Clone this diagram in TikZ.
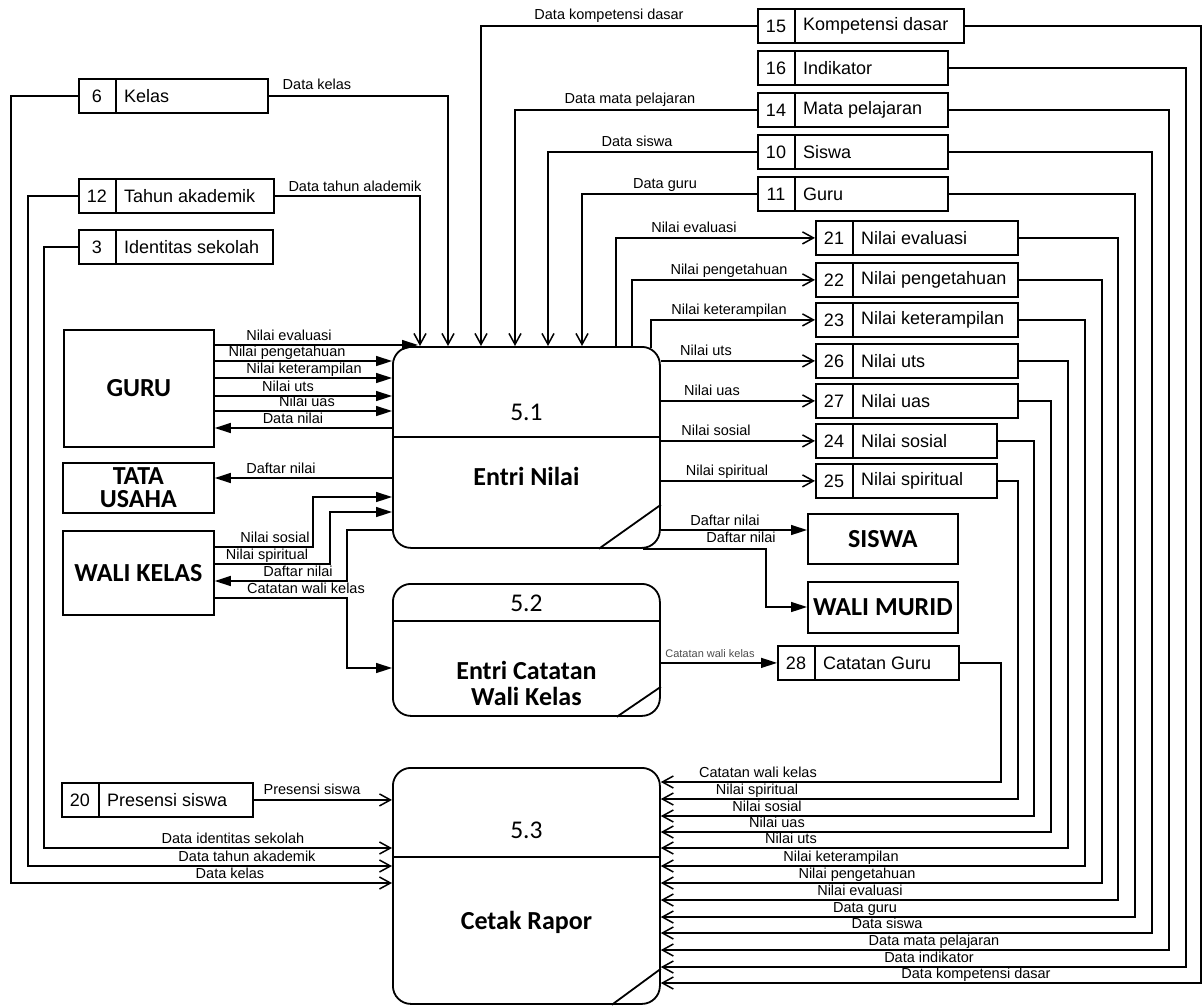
\documentclass[tikz,border=0pt]{standalone}
\usepackage{fontspec}
\setmainfont{Liberation Sans}
\newfontfamily\carlito{Carlito}
\usetikzlibrary{arrows.meta}

% data store: name, left x, top y, right x, number, title
\newcommand\dstore[6]{%
  \node[storebox, minimum width={(#4-#2)*1pt}] (#1) at (#2,#3) {};
  \draw[boxline] ([xshift=38pt]#1.north west) -- ([xshift=38pt]#1.south west);
  \node[storetxt] (#1n) at ([xshift=19pt]#1.west) {#5};
  \node[storetxt, anchor=west] (#1t) at ([xshift=46pt]#1.west) {#6};
}
% flow label: name, centre x, y of its line, text
\newcommand\lab[4]{\node[lbl] (#1) at (#2,#3) {#4};}

\begin{document}
\begin{tikzpicture}[x=1pt,y=-1pt,
  boxline/.style={line width=1.8pt},
  procbox/.style={draw, boxline, rounded corners=18pt, minimum width=267pt,
    inner sep=0pt, anchor=north west},
  procnum/.style={font=\carlito\fontsize{25.5}{27}\selectfont},
  procname/.style={font=\carlito\bfseries\fontsize{26}{29}\selectfont, align=center},
  entity/.style={draw, boxline, inner sep=0pt, anchor=north west,
    font=\carlito\bfseries\fontsize{26}{23.5}\selectfont, align=center},
  storebox/.style={draw, boxline, inner sep=0pt, minimum height=34pt, anchor=north west},
  storetxt/.style={font=\fontsize{18}{20}\selectfont, inner sep=0pt},
  flow/.style={line width=1.5pt},
  fa/.style={flow, -{Triangle[length=16pt,width=10pt]}},
  oa/.style={flow, -{Straight Barb[length=11pt,width=12pt,line width=1.5pt]}},
  lbl/.style={font=\fontsize{14.5}{16}\selectfont, inner sep=0pt, anchor=base, yshift=4.5pt},
  smalllbl/.style={lbl, font=\fontsize{11}{12}\selectfont, text=black!70},
]
\useasboundingbox (0,0) rectangle (1203,1005);

% ---------------- processes ----------------
\node[procbox, minimum height=201pt] (p51) at (392,346) {};
\draw[boxline] (p51.west |- 0,437) -- (p51.east |- 0,437);
\draw[boxline] ([xshift=-62pt]p51.south east) -- ([yshift=44pt]p51.south east);
\node[procnum] (p51n) at (p51.north |- 0,412) {5.1};
\node[procname] (p51t) at (p51.north |- 0,476) {Entri Nilai};

\node[procbox, minimum height=132pt] (p52) at (392,583) {};
\draw[boxline] (p52.west |- 0,621) -- (p52.east |- 0,621);
\draw[boxline] ([xshift=-44pt]p52.south east) -- ([yshift=30pt]p52.south east);
\node[procnum] (p52n) at (p52.north |- 0,603) {5.2};
\node[procname] (p52t) at (p52.north |- 0,683) {Entri Catatan\\[-3pt]Wali Kelas};

\node[procbox, minimum height=236pt] (p53) at (392,767) {};
\draw[boxline] (p53.west |- 0,857) -- (p53.east |- 0,857);
\draw[boxline] ([xshift=-49pt]p53.south east) -- ([yshift=36pt]p53.south east);
\node[procnum] (p53n) at (p53.north |- 0,830) {5.3};
\node[procname] (p53t) at (p53.north |- 0,922) {Cetak Rapor};

% ---------------- external entities ----------------
\node[entity, minimum width=150pt, minimum height=117pt] (guru) at (63,329) {GURU};
\node[entity, minimum width=151pt, minimum height=50pt] (tata) at (62,462) {TATA\\USAHA};
\node[entity, minimum width=151pt, minimum height=84pt] (wali) at (62,530) {WALI KELAS};
\node[entity, minimum width=150pt, minimum height=50pt] (siswa) at (807,513) {SISWA};
\node[entity, minimum width=150pt, minimum height=51pt] (walimurid) at (807,581) {WALI MURID};

% ---------------- data stores ----------------
\dstore{s6}{78}{78}{267}{6}{Kelas}
\dstore{s12}{78}{178}{273}{12}{Tahun akademik}
\dstore{s3}{78}{229}{272}{3}{Identitas sekolah}
\dstore{s20}{61}{782}{252}{20}{Presensi siswa}
\dstore{s15}{757}{8}{963}{15}{Kompetensi dasar}
\dstore{s16}{757}{50}{947}{16}{Indikator}
\dstore{s14}{757}{92}{947}{14}{Mata pelajaran}
\dstore{s10}{757}{134}{947}{10}{Siswa}
\dstore{s11}{757}{176}{947}{11}{Guru}
\dstore{s21}{815}{220}{1017}{21}{Nilai evaluasi}
\dstore{s22}{815}{262}{1017}{22}{Nilai pengetahuan}
\dstore{s23}{815}{302}{1017}{23}{Nilai keterampilan}
\dstore{s26}{815}{343}{1017}{26}{Nilai uts}
\dstore{s27}{815}{383}{1017}{27}{Nilai uas}
\dstore{s24}{815}{423}{996}{24}{Nilai sosial}
\dstore{s25}{815}{463}{996}{25}{Nilai spiritual}
\dstore{s28}{777}{645}{958}{28}{Catatan Guru}

% ---------------- stores into 5.1 (from above) ----------------
\draw[oa] (s6.east) -| (p51.north -| 448,0);
\draw[oa] (s12.east) -| (p51.north -| 420,0);
\draw[oa] (s15.west) -| (p51.north -| 481,0);
\draw[oa] (s14.west) -| (p51.north -| 515,0);
\draw[oa] (s10.west) -| (p51.north -| 548,0);
\draw[oa] (s11.west) -| (p51.north -| 582,0);
\lab{l1}{317}{94}{Data kelas}
\lab{l2}{355}{196}{Data tahun alademik}
\lab{l3}{609}{24}{Data kompetensi dasar}
\lab{l4}{630}{108}{Data mata pelajaran}
\lab{l5}{637}{151}{Data siswa}
\lab{l6}{665}{193}{Data guru}

% ---------------- GURU and TATA USAHA ----------------
\draw[fa] (guru.east |- 0,345) -- ([xshift=26pt,yshift=1pt]p51.north west);
\draw[fa] (guru.east |- 0,361) -- (p51.west |- 0,361);
\draw[fa] (guru.east |- 0,378) -- (p51.west |- 0,378);
\draw[fa] (guru.east |- 0,396) -- (p51.west |- 0,396);
\draw[fa] (guru.east |- 0,411) -- (p51.west |- 0,411);
\draw[fa] (p51.west |- 0,428) -- (guru.east |- 0,428);
\draw[fa] (p51.west |- 0,478) -- (tata.east |- 0,478);
\lab{l7}{289}{345}{Nilai evaluasi}
\lab{l8}{287}{361}{Nilai pengetahuan}
\lab{l9}{304}{378}{Nilai keterampilan}
\lab{l10}{288}{396}{Nilai uts}
\lab{l11}{307}{411}{Nilai uas}
\lab{l12}{293}{428}{Data nilai}
\lab{l13}{281}{478}{Daftar nilai}

% ---------------- WALI KELAS ----------------
\draw[fa] (wali.east |- 0,547) -| (313,497) -- (p51.west |- 0,497);
\draw[fa] (wali.east |- 0,564) -| (330,512) -- (p51.west |- 0,512);
\draw[fa] (p51.west |- 0,530) -| (347,581) -- (wali.east |- 0,581);
\draw[fa] (wali.east |- 0,598) -| (347,668) -- (p52.west |- 0,668);
\lab{l14}{275}{547}{Nilai sosial}
\lab{l15}{267}{564}{Nilai spiritual}
\lab{l16}{298}{581}{Daftar nilai}
\lab{l17}{306}{598}{Catatan wali kelas}

% ---------------- 5.1 into the score stores ----------------
\draw[oa] (p51.north -| 616,0) |- (s21.west);
\draw[oa] (p51.north -| 632,0) |- (s22.west);
\draw[oa] ([xshift=-10pt,yshift=-2pt]p51.north east) |- (s23.west);
\draw[oa] (p51.east |- s26.west) -- (s26.west);
\draw[oa] (p51.east |- s27.west) -- (s27.west);
\draw[oa] (p51.east |- s24.west) -- (s24.west);
\draw[oa] (p51.east |- s25.west) -- (s25.west);
\lab{l18}{694}{237}{Nilai evaluasi}
\lab{l19}{729}{279}{Nilai pengetahuan}
\lab{l20}{729}{319}{Nilai keterampilan}
\lab{l21}{706}{360}{Nilai uts}
\lab{l22}{712}{400}{Nilai uas}
\lab{l23}{716}{440}{Nilai sosial}
\lab{l24}{727}{480}{Nilai spiritual}

% ---------------- 5.1 to SISWA / WALI MURID, 5.2 to store 28 ----------------
\draw[fa] (p51.east |- 0,530) -- (siswa.west |- 0,530);
\draw[fa] (p51.south -| 643,0) -| (766,607) -- (walimurid.west |- 0,607);
\draw[fa] (p52.east |- s28.west) -- (s28.west);
\lab{l25}{725}{530}{Daftar nilai}
\lab{l26}{741}{547}{Daftar nilai}
\node[smalllbl] (l27) at (710,662) {Catatan wali kelas};

% ---------------- left stores into 5.3 ----------------
\draw[oa] (s20.east) -- (p53.west |- s20.east);
\draw[oa] (s3.west) -| (44,848) -- (p53.west |- 0,848);
\draw[oa] (s12.west) -| (28,866) -- (p53.west |- 0,866);
\draw[oa] (s6.west) -| (11,883) -- (p53.west |- 0,883);
\lab{l28}{312}{799}{Presensi siswa}
\lab{l29}{233}{848}{Data identitas sekolah}
\lab{l30}{247}{866}{Data tahun akademik}
\lab{l31}{230}{883}{Data kelas}

% ---------------- right stores into 5.3 ----------------
\draw[oa] (s28.east) -| (1001,782) -- (p53.east |- 0,782);
\draw[oa] (s25.east) -| (1018,799) -- (p53.east |- 0,799);
\draw[oa] (s24.east) -| (1034,816) -- (p53.east |- 0,816);
\draw[oa] (s27.east) -| (1051,832) -- (p53.east |- 0,832);
\draw[oa] (s26.east) -| (1068,848) -- (p53.east |- 0,848);
\draw[oa] (s23.east) -| (1085,866) -- (p53.east |- 0,866);
\draw[oa] (s22.east) -| (1102,883) -- (p53.east |- 0,883);
\draw[oa] (s21.east) -| (1118,900) -- (p53.east |- 0,900);
\draw[oa] (s11.east) -| (1135,917) -- (p53.east |- 0,917);
\draw[oa] (s10.east) -| (1152,933) -- (p53.east |- 0,933);
\draw[oa] (s14.east) -| (1169,950) -- (p53.east |- 0,950);
\draw[oa] (s16.east) -| (1186,967) -- (p53.east |- 0,967);
\draw[oa] (s15.east) -| (1201,983) -- (p53.east |- 0,983);
\lab{l32}{758}{782}{Catatan wali kelas}
\lab{l33}{757}{799}{Nilai spiritual}
\lab{l34}{767}{816}{Nilai sosial}
\lab{l35}{777}{832}{Nilai uas}
\lab{l36}{791}{848}{Nilai uts}
\lab{l37}{841}{866}{Nilai keterampilan}
\lab{l38}{857}{883}{Nilai pengetahuan}
\lab{l39}{860}{900}{Nilai evaluasi}
\lab{l40}{865}{917}{Data guru}
\lab{l41}{887}{933}{Data siswa}
\lab{l42}{934}{950}{Data mata pelajaran}
\lab{l43}{929}{967}{Data indikator}
\lab{l44}{976}{983}{Data kompetensi dasar}
\end{tikzpicture}
\end{document}
